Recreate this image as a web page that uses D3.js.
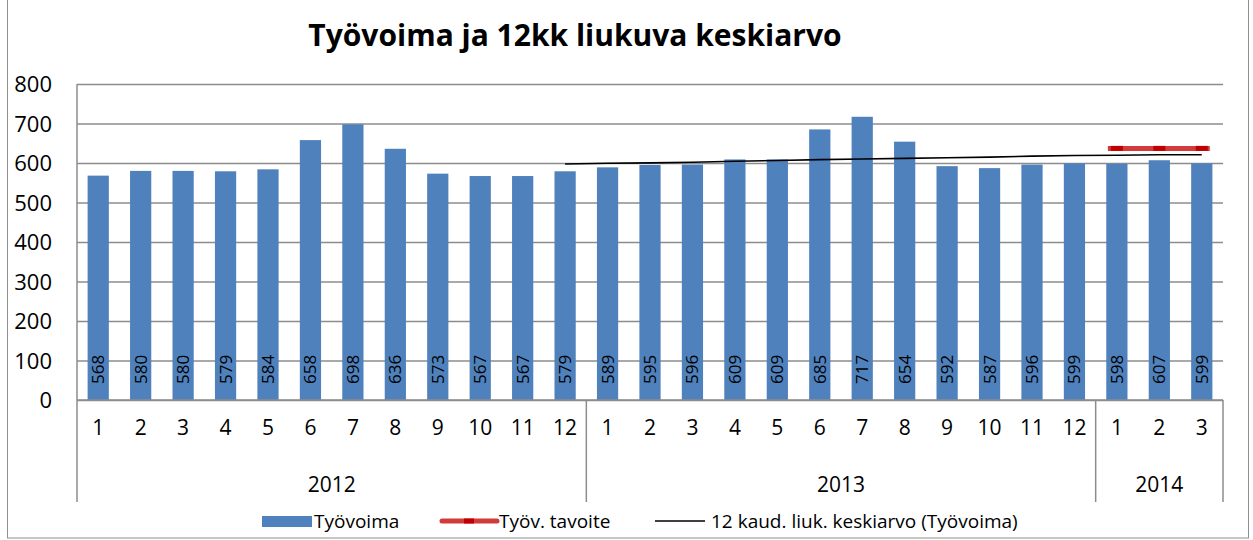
<!DOCTYPE html>
<html>
<head>
<meta charset="utf-8">
<script src="https://cdn.jsdelivr.net/npm/d3@7"></script>
<style>
  body { margin: 0; background: #fff; }
  text { font-family: "Open Sans", sans-serif; fill: #000; }
</style>
</head>
<body>
<svg width="1253" height="540"></svg>
<script>
// Työvoima chart, values

const months = ["1","2","3","4","5","6","7","8","9","10","11","12",
                "1","2","3","4","5","6","7","8","9","10","11","12",
                "1","2","3"]
const years = [{year: "2012", from: 0, to: 12},
               {year: "2013", from: 12, to: 24},
               {year: "2014", from: 24, to: 27}]

// Työvoima (bars)
const workforce = [568, 580, 580, 579, 584, 658, 698, 636, 573, 567, 567, 579,
                   589, 595, 596, 609, 609, 685, 717, 654, 592, 587, 596, 599,
                   598, 607, 599]

// Työv. tavoite (red target, only 2014)
const targetIdx = [24, 25, 26]
const targetVals = [637, 637, 637]

// 12 kaud. liuk. keskiarvo (starts at 2012/12)
const maIdx = [11,12,13,14,15,16,17,18,19,20,21,22,23,24,25,26]
const maVals = [597.4, 599.2, 600.4, 601.8, 604.3, 606.3, 608.6, 610.2,
                611.7, 613.3, 614.9, 617.3, 619.0, 619.8, 620.8, 621.0]

const yTicks = [0, 100, 200, 300, 400, 500, 600, 700, 800]

const svg = d3.select('svg')

const plot = {left: 77, right: 1223, top: 84, bottom: 400, axisBottom: 502}
const barColor = '#4f81bd'
const gridColor = '#8c8c8c'

// chart border
svg.append('rect')
  .attr('x', 7.5).attr('y', -1)
  .attr('width', 1241).attr('height', 539)
  .attr('fill', 'none')
  .attr('stroke', '#8f8f8f')
  .attr('stroke-width', 1)

// title
svg.append('text')
  .attr('x', 575).attr('y', 46)
  .attr('text-anchor', 'middle')
  .style('font-size', '30px')
  .style('font-weight', 'bold')
  .text('Työvoima ja 12kk liukuva keskiarvo')

const x = d3.scaleBand()
  .domain(d3.range(months.length))
  .range([plot.left, plot.right])
  .paddingInner(0.5)
  .paddingOuter(0.25)

const step = x.step()
const cx = i => x(i) + x.bandwidth() / 2
const cellLeft = i => plot.left + i * step

const y = d3.scaleLinear()
  .domain([0, 800])
  .range([plot.bottom, plot.top])

// gridlines + y labels
const yAxis = svg.append('g')
  .attr('transform', `translate(${plot.left},0)`)
  .call(d3.axisLeft(y).tickValues(yTicks).tickSize(-(plot.right - plot.left)).tickPadding(25))
yAxis.select('.domain').remove()
yAxis.selectAll('.tick line')
  .attr('stroke', gridColor)
  .attr('stroke-width', 1.5)
yAxis.selectAll('.tick text')
  .style('font-size', '22px')
  .attr('dy', '0.36em')

// left axis line (runs down through category area)
svg.append('line')
  .attr('x1', plot.left).attr('x2', plot.left)
  .attr('y1', plot.top).attr('y2', plot.axisBottom)
  .attr('stroke', gridColor).attr('stroke-width', 1.5)

// year group separators
svg.selectAll('.sep')
  .data(years)
  .join('line')
  .attr('class', 'sep')
  .attr('x1', d => cellLeft(d.to)).attr('x2', d => cellLeft(d.to))
  .attr('y1', plot.bottom).attr('y2', plot.axisBottom)
  .attr('stroke', gridColor).attr('stroke-width', 1.5)

// bars
svg.selectAll('.bar')
  .data(workforce)
  .join('rect')
  .attr('class', 'bar')
  .attr('x', (d, i) => x(i))
  .attr('width', x.bandwidth())
  .attr('y', d => y(d))
  .attr('height', d => y(0) - y(d))
  .attr('fill', barColor)

// bar value labels (rotated)
svg.selectAll('.val')
  .data(workforce)
  .join('text')
  .attr('class', 'val')
  .attr('transform', (d, i) => `translate(${cx(i) + 6},${plot.bottom - 16}) rotate(-90)`)
  .style('font-size', '17px')
  .text(d => d)

// month labels
const xAxis = svg.append('g')
  .attr('transform', `translate(0,${plot.bottom})`)
  .call(d3.axisBottom(x).tickFormat(i => months[i]).tickSize(0).tickPadding(20))
xAxis.select('.domain').remove()
xAxis.selectAll('.tick text').style('font-size', '21px')

// bottom axis line
svg.append('line')
  .attr('x1', plot.left).attr('x2', plot.right)
  .attr('y1', plot.bottom).attr('y2', plot.bottom)
  .attr('stroke', gridColor).attr('stroke-width', 1.5)

// year labels
svg.selectAll('.year')
  .data(years)
  .join('text')
  .attr('class', 'year')
  .attr('x', d => (cellLeft(d.from) + cellLeft(d.to)) / 2)
  .attr('y', 492)
  .attr('text-anchor', 'middle')
  .style('font-size', '21px')
  .text(d => d.year)

// moving average line
const maLine = d3.line()
  .x(d => cx(d[0]))
  .y(d => y(d[1]))
svg.append('path')
  .datum(d3.zip(maIdx, maVals))
  .attr('d', maLine)
  .attr('fill', 'none')
  .attr('stroke', '#000')
  .attr('stroke-width', 1.6)

// target line
const tPts = d3.zip(targetIdx, targetVals)
const tExt = [[cx(targetIdx[0]) - 9, y(targetVals[0])],
              ...tPts.map(d => [cx(d[0]), y(d[1])]),
              [cx(targetIdx[targetIdx.length - 1]) + 8, y(targetVals[targetVals.length - 1])]]
svg.append('path')
  .attr('d', d3.line()(tExt))
  .attr('fill', 'none')
  .attr('stroke', '#d13b3b')
  .attr('stroke-width', 5)
svg.selectAll('.tmark')
  .data(tPts)
  .join('rect')
  .attr('class', 'tmark')
  .attr('x', d => cx(d[0]) - 6)
  .attr('y', d => y(d[1]) - 2.5)
  .attr('width', 12).attr('height', 5)
  .attr('fill', '#c00000')

// legend
const legY = 521
const legFont = '19px'
const leg = svg.append('g')
leg.append('rect')
  .attr('x', 262).attr('y', legY - 5)
  .attr('width', 50).attr('height', 11)
  .attr('fill', barColor)
leg.append('text').attr('x', 314).attr('y', legY + 7)
  .style('font-size', legFont).text('Työvoima')

leg.append('line')
  .attr('x1', 442).attr('x2', 497)
  .attr('y1', legY).attr('y2', legY)
  .attr('stroke', '#d13b3b').attr('stroke-width', 5)
  .attr('stroke-linecap', 'round')
leg.append('rect')
  .attr('x', 464).attr('y', legY - 2.5)
  .attr('width', 10).attr('height', 5)
  .attr('fill', '#c00000')
leg.append('text').attr('x', 499).attr('y', legY + 7)
  .style('font-size', legFont).text('Työv. tavoite')

leg.append('line')
  .attr('x1', 655).attr('x2', 705)
  .attr('y1', legY).attr('y2', legY)
  .attr('stroke', '#000').attr('stroke-width', 1.6)
leg.append('text').attr('x', 711).attr('y', legY + 7)
  .style('font-size', legFont).text('12 kaud. liuk. keskiarvo (Työvoima)')
</script>
</body>
</html>
